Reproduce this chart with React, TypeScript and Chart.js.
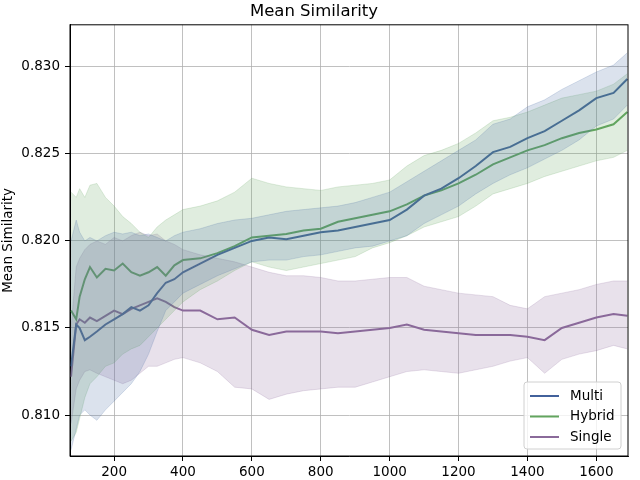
import { useEffect, useRef } from 'react'
import { Chart, registerables } from 'chart.js'

Chart.register(...registerables)

const steps = [75, 90, 100, 115, 130, 150, 175, 200, 225, 250, 275, 300, 325, 350, 375, 400, 450, 500, 550, 600, 650, 700, 750, 800, 850, 900, 950, 1000, 1050, 1100, 1150, 1200, 1250, 1300, 1350, 1400, 1450, 1500, 1550, 1600, 1650, 1690]
const xTicks = [200, 400, 600, 800, 1000, 1200, 1400, 1600]
const yTicks = [0.81, 0.815, 0.82, 0.825, 0.83]

const multiMean = [0.8128, 0.8152, 0.8150, 0.8143, 0.8145, 0.8148, 0.8152, 0.8155, 0.8158, 0.8162, 0.8160, 0.8163, 0.8170, 0.8176, 0.8178, 0.8182, 0.8187, 0.8192, 0.8196, 0.8200, 0.8202, 0.8201, 0.8203, 0.8205, 0.8206, 0.8208, 0.8210, 0.8212, 0.8218, 0.8226, 0.8230, 0.8236, 0.8243, 0.8251, 0.8254, 0.8259, 0.8263, 0.8269, 0.8275, 0.8282, 0.8285, 0.8293]
const multiUpper = [0.8200, 0.8212, 0.8205, 0.8200, 0.8202, 0.8200, 0.8203, 0.8205, 0.8204, 0.8205, 0.8203, 0.8204, 0.8202, 0.8200, 0.8203, 0.8205, 0.8207, 0.8210, 0.8212, 0.8213, 0.8215, 0.8217, 0.8218, 0.8219, 0.8220, 0.8222, 0.8225, 0.8228, 0.8234, 0.8240, 0.8246, 0.8252, 0.8258, 0.8267, 0.8270, 0.8277, 0.8281, 0.8287, 0.8292, 0.8297, 0.8301, 0.8308]
const multiLower = [0.8080, 0.8092, 0.8100, 0.8103, 0.8100, 0.8097, 0.8103, 0.8108, 0.8113, 0.8118, 0.8125, 0.8135, 0.8148, 0.8160, 0.8165, 0.8170, 0.8175, 0.8180, 0.8184, 0.8188, 0.8189, 0.8189, 0.8191, 0.8192, 0.8194, 0.8196, 0.8197, 0.8200, 0.8203, 0.8210, 0.8215, 0.8220, 0.8227, 0.8233, 0.8238, 0.8242, 0.8247, 0.8252, 0.8258, 0.8266, 0.8270, 0.8278]

const hybridMean = [0.8160, 0.8155, 0.8168, 0.8178, 0.8185, 0.8179, 0.8184, 0.8183, 0.8187, 0.8182, 0.8180, 0.8182, 0.8185, 0.8180, 0.8186, 0.8189, 0.8190, 0.8193, 0.8197, 0.8202, 0.8203, 0.8204, 0.8206, 0.8207, 0.8211, 0.8213, 0.8215, 0.8217, 0.8221, 0.8226, 0.8229, 0.8233, 0.8238, 0.8244, 0.8248, 0.8252, 0.8255, 0.8259, 0.8262, 0.8264, 0.8267, 0.8274]
const hybridUpper = [0.8228, 0.8225, 0.8230, 0.8225, 0.8232, 0.8233, 0.8225, 0.8220, 0.8214, 0.8210, 0.8205, 0.8202, 0.8208, 0.8212, 0.8215, 0.8218, 0.8220, 0.8223, 0.8228, 0.8236, 0.8233, 0.8231, 0.8230, 0.8229, 0.8231, 0.8232, 0.8233, 0.8235, 0.8243, 0.8249, 0.8252, 0.8256, 0.8262, 0.8269, 0.8271, 0.8274, 0.8278, 0.8282, 0.8284, 0.8286, 0.8290, 0.8296]
const hybridLower = [0.8085, 0.8090, 0.8098, 0.8110, 0.8118, 0.8122, 0.8128, 0.8130, 0.8135, 0.8138, 0.8140, 0.8145, 0.8150, 0.8155, 0.8160, 0.8165, 0.8172, 0.8177, 0.8183, 0.8188, 0.8185, 0.8183, 0.8185, 0.8187, 0.8189, 0.8191, 0.8196, 0.8199, 0.8203, 0.8208, 0.8211, 0.8214, 0.8220, 0.8227, 0.8230, 0.8233, 0.8237, 0.8240, 0.8243, 0.8246, 0.8248, 0.8252]

const singleMean = [0.8122, 0.8152, 0.8155, 0.8153, 0.8156, 0.8154, 0.8157, 0.8160, 0.8158, 0.8161, 0.8163, 0.8165, 0.8167, 0.8165, 0.8162, 0.8160, 0.8160, 0.8155, 0.8156, 0.8149, 0.8146, 0.8148, 0.8148, 0.8148, 0.8147, 0.8148, 0.8149, 0.8150, 0.8152, 0.8149, 0.8148, 0.8147, 0.8146, 0.8146, 0.8146, 0.8145, 0.8143, 0.8150, 0.8153, 0.8156, 0.8158, 0.8157]
const singleUpper = [0.8150, 0.8185, 0.8190, 0.8195, 0.8198, 0.8200, 0.8198, 0.8202, 0.8200, 0.8203, 0.8205, 0.8203, 0.8204, 0.8200, 0.8198, 0.8195, 0.8192, 0.8190, 0.8188, 0.8185, 0.8182, 0.8180, 0.8180, 0.8179, 0.8177, 0.8177, 0.8178, 0.8179, 0.8179, 0.8174, 0.8172, 0.8170, 0.8169, 0.8168, 0.8163, 0.8161, 0.8168, 0.8170, 0.8172, 0.8175, 0.8177, 0.8177]
const singleLower = [0.8095, 0.8115, 0.8120, 0.8125, 0.8126, 0.8124, 0.8122, 0.8120, 0.8118, 0.8120, 0.8124, 0.8128, 0.8128, 0.8130, 0.8132, 0.8133, 0.8130, 0.8125, 0.8116, 0.8115, 0.8109, 0.8112, 0.8114, 0.8115, 0.8116, 0.8116, 0.8119, 0.8122, 0.8125, 0.8126, 0.8125, 0.8124, 0.8126, 0.8128, 0.8131, 0.8133, 0.8124, 0.8132, 0.8135, 0.8137, 0.8140, 0.8138]

const seriesNames = ['Multi', 'Hybrid', 'Single']
const lineColors = ['#42619b', '#62a55f', '#8a6a9a']
const bandColors = ['rgba(76,108,164,0.2)', 'rgba(98,165,95,0.2)', 'rgba(138,106,154,0.2)']

const FONT = 'DejaVu Sans'

const pts = (ys: number[]) => steps.map((x, i) => ({ x, y: ys[i] }))

// box round the plot, like matplotlib's spines
const framePlugin = {
  id: 'frame',
  afterDraw(chart: any) {
    const { ctx, chartArea: a } = chart
    ctx.save()
    ctx.strokeStyle = '#000'
    ctx.lineWidth = 1
    ctx.strokeRect(a.left, a.top, a.right - a.left, a.bottom - a.top)
    ctx.restore()
  },
}

// legend inside the axes, bottom right
const legendPlugin = {
  id: 'innerLegend',
  afterDraw(chart: any) {
    const { ctx, chartArea: a } = chart
    const w = 97
    const h = 67
    const x0 = a.right - w - 7
    const y0 = a.bottom - h - 7
    ctx.save()
    ctx.beginPath()
    ctx.roundRect(x0, y0, w, h, 3)
    ctx.fillStyle = 'rgba(255,255,255,0.8)'
    ctx.fill()
    ctx.strokeStyle = '#d0d0d0'
    ctx.lineWidth = 1
    ctx.stroke()
    ctx.font = `13.5px "${FONT}"`
    ctx.textBaseline = 'middle'
    seriesNames.forEach((name, i) => {
      const y = y0 + 14 + i * 20.5
      ctx.strokeStyle = lineColors[i]
      ctx.lineWidth = 2
      ctx.beginPath()
      ctx.moveTo(x0 + 6, y)
      ctx.lineTo(x0 + 35, y)
      ctx.stroke()
      ctx.fillStyle = '#000'
      ctx.fillText(name, x0 + 46, y)
    })
    ctx.restore()
  },
}

export default function App() {
  const canvasRef = useRef<HTMLCanvasElement>(null)

  useEffect(() => {
    document.body.style.margin = '0'
    const bands = [
      [multiUpper, multiLower],
      [hybridUpper, hybridLower],
      [singleUpper, singleLower],
    ]
    const means = [multiMean, hybridMean, singleMean]
    const datasets: any[] = []
    bands.forEach(([up, lo], i) => {
      datasets.push({
        label: seriesNames[i] + ' upper',
        data: pts(up),
        borderColor: bandColors[i],
        borderWidth: 1,
        pointRadius: 0,
        fill: false,
      })
      datasets.push({
        label: seriesNames[i] + ' lower',
        data: pts(lo),
        borderColor: bandColors[i],
        backgroundColor: bandColors[i],
        borderWidth: 1,
        pointRadius: 0,
        fill: '-1',
      })
    })
    means.forEach((m, i) => {
      datasets.push({
        label: seriesNames[i],
        data: pts(m),
        borderColor: lineColors[i],
        borderWidth: 2,
        pointRadius: 0,
        fill: false,
      })
    })

    const chart = new Chart(canvasRef.current!, {
      type: 'line',
      data: { datasets },
      options: {
        animation: false,
        responsive: true,
        maintainAspectRatio: false,
        layout: { padding: { left: 0, right: 12, top: 0, bottom: 0 } },
        plugins: {
          legend: { display: false },
          tooltip: { enabled: false },
          title: {
            display: true,
            text: 'Mean Similarity',
            color: '#000',
            font: { family: FONT, size: 16.5, weight: 'normal' },
            padding: { top: 2, bottom: 3 },
          },
        },
        scales: {
          x: {
            type: 'linear',
            min: 72,
            max: 1692,
            afterFit: (s: any) => { s.height = 24 },
            afterBuildTicks: (s: any) => { s.ticks = xTicks.map((value) => ({ value })) },
            ticks: {
              color: '#000',
              padding: 3,
              maxRotation: 0,
              autoSkip: false,
              font: { family: FONT, size: 13.5 },
              callback: (v: any) => String(v),
            },
            grid: { color: '#b0b0b0', lineWidth: 0.8, tickColor: '#000', tickLength: 5, tickWidth: 1 },
            border: { color: '#000', width: 1 },
          },
          y: {
            min: 0.80765,
            max: 0.83241,
            afterFit: (s: any) => { s.width = 70 },
            afterBuildTicks: (s: any) => { s.ticks = yTicks.map((value) => ({ value })) },
            ticks: {
              color: '#000',
              padding: 5,
              autoSkip: false,
              font: { family: FONT, size: 13.5 },
              callback: (v: any) => Number(v).toFixed(3),
            },
            grid: { color: '#b0b0b0', lineWidth: 0.8, tickColor: '#000', tickLength: 5, tickWidth: 1 },
            border: { color: '#000', width: 1 },
            title: {
              display: true,
              text: 'Mean Similarity',
              color: '#000',
              padding: 0,
              font: { family: FONT, size: 13.5 },
            },
          },
        },
      },
      plugins: [framePlugin, legendPlugin],
    })

    return () => chart.destroy()
  }, [])

  return (
    <div style={{ width: 640, height: 480, position: 'relative' }}>
      <canvas ref={canvasRef}></canvas>
    </div>
  )
}
